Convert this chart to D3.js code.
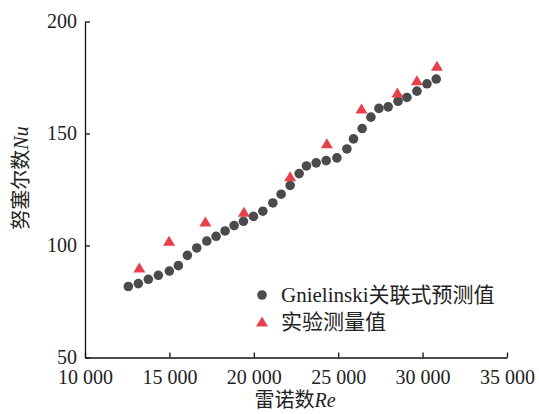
<!DOCTYPE html>
<html><head><meta charset="utf-8">
<script src="https://cdn.jsdelivr.net/npm/d3@7/dist/d3.min.js"></script>
<style>
html,body{margin:0;padding:0;background:#fff;}
svg{display:block;}
</style></head>
<body>
<svg id="chart" width="539" height="414"></svg>
<script>
// Gnielinski correlation predictions (Re, Nu)
const predRe = [12567,13160,13753,14346,14998,15531,16065,16622,17215,17766,18300,18833,19385,19978,20535,21128,21620,22153,22687,23120,23695,24288,24922,25515,25906,26422,26937,27412,27963,28544,29071,29664,30257,30808];
const predNu = [81.7,83.0,84.9,86.7,88.6,91.0,95.6,98.9,102.0,104.1,106.5,108.9,110.8,113.0,115.3,119.0,122.9,126.8,132.1,135.5,136.9,137.9,139.1,143.1,147.6,152.2,157.3,161.2,161.9,164.4,166.1,168.9,172.2,174.3];
// Experimental measurements (Re, Nu)
const expRe = [13219,14980,17132,19414,22153,24329,26380,28508,29664,30850];
const expNu = [90.2,102.1,110.7,115.1,130.9,145.7,161.2,168.3,173.8,180.2];
const xTicks = [10000,15000,20000,25000,30000,35000];
const yTicks = [50,100,150,200];
const legendLabels = ["Gnielinski关联式预测值","实验测量值"];
const xTitle = "雷诺数", xTitleIt = "Re";
const yTitle = "努塞尔数", yTitleIt = "Nu";

// pick an installed serif font for Latin text
const ctx = document.createElement("canvas").getContext("2d");
function w(font, t){ ctx.font = font; return ctx.measureText(t).width; }
function has(f){
  const t = "10 000 Gnielinski Re Nu";
  return w(`40px "${f}", monospace`, t) !== w("40px monospace", t);
}
const cands = ["Liberation Serif","Tinos","Nimbus Roman","Nimbus Roman No9 L","FreeSerif","Noto Serif","DejaVu Serif Condensed","DejaVu Serif"];
const LAT = cands.find(has) || "serif";
const FONT = `"${LAT}", "Noto Sans CJK SC", serif`;
const CJK = `"Noto Sans CJK SC", serif`;
// Latin size factor so that widths match a Times-like face
const k = Math.min(1, 55.5 / w(`20px "${LAT}"`, "10 000"));

function runs(sel, str, size, italic){
  const parts = str.match(/[\x00-\x7F]+|[^\x00-\x7F]+/g);
  parts.forEach(p => {
    const ascii = /^[\x00-\x7F]+$/.test(p);
    sel.append("tspan").text(p)
      .attr("font-family", ascii ? FONT : CJK)
      .attr("font-size", ascii ? size * k : size)
      .attr("font-style", ascii && italic ? "italic" : null);
  });
}

const svg = d3.select("#chart");
const x = d3.scaleLinear().domain([10000,35000]).range([85,507]);
const y = d3.scaleLinear().domain([50,200]).range([357.5,21.5]);
const fmt = d3.formatLocale({decimal:".",thousands:" ",grouping:[3],currency:["",""]}).format(",");

const gx = svg.append("g").attr("transform",`translate(0,${y(50)})`)
  .call(d3.axisBottom(x).tickValues(xTicks).tickFormat(fmt).tickSizeInner(-5).tickSizeOuter(0));
gx.attr("font-family",FONT);
gx.selectAll("text").attr("y",26.5).attr("dy",null).attr("font-size",20*k).attr("fill","#222");
const gy = svg.append("g").attr("transform",`translate(${x(10000)},0)`)
  .call(d3.axisLeft(y).tickValues(yTicks).tickSizeInner(-5).tickSizeOuter(0));
gy.attr("font-family",FONT);
gy.selectAll("text").attr("x",-8).attr("dy","0.3em").attr("font-size",20*k).attr("fill","#222");
svg.selectAll(".domain, .tick line").attr("stroke","#111").attr("stroke-width",1.3);

// axis titles
const xt = svg.append("text").attr("x",295).attr("y",407).attr("text-anchor","middle").attr("fill","#222");
runs(xt, xTitle, 20, false); runs(xt, xTitleIt, 20, true);
const yt = svg.append("text").attr("transform","translate(28,178) rotate(-90)").attr("text-anchor","middle").attr("fill","#222");
runs(yt, yTitle, 20, false); runs(yt, yTitleIt, 20, true);

const gray = "#4b4b4e", red = "#e8404b";
function tri(cx, cy){
  const tw = 12, th = 10;
  return `M${cx},${cy-th/2}L${cx+tw/2},${cy+th/2}L${cx-tw/2},${cy+th/2}Z`;
}
svg.append("g").selectAll("circle").data(predRe).join("circle")
  .attr("cx",(d)=>x(d)).attr("cy",(d,i)=>y(predNu[i])).attr("r",4.8).attr("fill",gray);
svg.append("g").selectAll("path").data(expRe).join("path")
  .attr("d",(d,i)=>tri(x(d),y(expNu[i]))).attr("fill",red);

// legend
const lg = svg.append("g").attr("fill","#222");
lg.append("circle").attr("cx",262).attr("cy",295).attr("r",4.8).attr("fill",gray);
lg.append("path").attr("d",tri(262,321.5)).attr("fill",red);
runs(lg.append("text").attr("x",281).attr("y",302), legendLabels[0], 21, false);
runs(lg.append("text").attr("x",281).attr("y",329), legendLabels[1], 21, false);
</script>
</body></html>
